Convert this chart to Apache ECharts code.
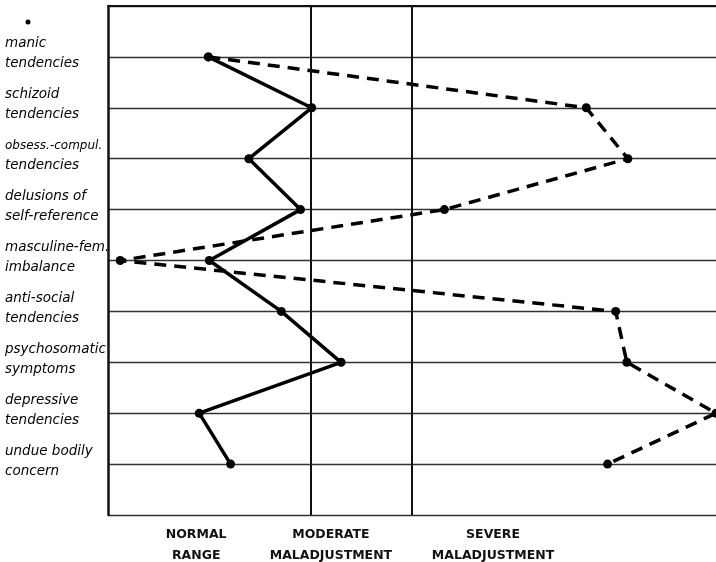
<!DOCTYPE html>
<html>
<head>
<meta charset="utf-8">
<script src="https://cdn.jsdelivr.net/npm/echarts@6/dist/echarts.min.js"></script>
<style>
  html, body { margin: 0; padding: 0; background: #fff; }
  #chart { width: 716px; height: 562px; }
</style>
</head>
<body>
<div id="chart"></div>
<script>
// rows from top to bottom, two lines each
var rowLabels = [
  ['manic', 'tendencies'],
  ['schizoid', 'tendencies'],
  ['obsess.-compul.', 'tendencies'],
  ['delusions of', 'self-reference'],
  ['masculine-fem.', 'imbalance'],
  ['anti-social', 'tendencies'],
  ['psychosomatic', 'symptoms'],
  ['depressive', 'tendencies'],
  ['undue bodily', 'concern']
]
// scores on a 0..6 scale (2 and 3 are the range limits)
var solidScores = [0.99, 2.01, 1.39, 1.90, 1.00, 1.71, 2.30, 0.90, 1.21]
var dashedScores = [0.99, 4.72, 5.13, 3.32, 0.12, 5.01, 5.12, 6.0, 4.93]
var rangeLimits = [2, 3]
var bandLabels = ['NORMAL\nRANGE', 'MODERATE\nMALADJUSTMENT', 'SEVERE\nMALADJUSTMENT']
var bandLabelAt = [0.87, 2.2, 3.8]

function toPoints (scores) {
  return scores.map(function (v, i) { return [v, i + 1] })
}

var chart = echarts.init(document.getElementById('chart'))

chart.setOption({
  animation: false,
  backgroundColor: '#fff',
  grid: { left: 108, right: 0, top: 6, bottom: 47 },
  xAxis: {
    type: 'value',
    min: 0,
    max: 6,
    axisLabel: { show: false },
    axisTick: { show: false },
    splitLine: { show: false },
    axisLine: { show: true, lineStyle: { color: '#111', width: 2 } }
  },
  yAxis: {
    type: 'value',
    inverse: true,
    min: 0,
    max: 10,
    interval: 1,
    axisTick: { show: false },
    axisLine: { show: true, lineStyle: { color: '#111', width: 2.5 } },
    splitLine: { show: true, lineStyle: { color: '#333', width: 1.4 } },
    axisLabel: {
      align: 'left',
      margin: 103,
      padding: [0, 0, 6, 0],
      formatter: function (v) {
        var r = rowLabels[v - 1]
        if (!r) return ''
        var first = r[0].indexOf('obsess') === 0 ? '{s|' + r[0] + '}' : '{n|' + r[0] + '}'
        return first + '\n{n|' + r[1] + '}'
      },
      rich: {
        n: { fontFamily: 'DejaVu Sans', fontStyle: 'italic', fontSize: 13.5, color: '#000', lineHeight: 20 },
        s: { fontFamily: 'DejaVu Sans', fontStyle: 'italic', fontSize: 12, color: '#000', lineHeight: 20 }
      }
    }
  },
  series: [
    {
      name: 'solid',
      type: 'line',
      data: toPoints(solidScores),
      symbol: 'circle',
      symbolSize: 9,
      itemStyle: { color: '#000' },
      lineStyle: { color: '#000', width: 3.5 },
      z: 5,
      markLine: {
        silent: true,
        symbol: ['none', 'none'],
        label: { show: false },
        lineStyle: { color: '#111', width: 2, type: 'solid' },
        data: rangeLimits.map(function (x) { return { xAxis: x } })
      }
    },
    {
      name: 'dashed',
      type: 'line',
      data: toPoints(dashedScores),
      symbol: 'circle',
      symbolSize: 9,
      itemStyle: { color: '#000' },
      lineStyle: { color: '#000', width: 3.5, type: [12, 8] },
      z: 4
    }
  ]
})

// band captions under the plot, placed through the x scale
var bottomY = chart.convertToPixel({ gridIndex: 0 }, [0, 10])[1]
var captions = bandLabels.map(function (t, i) {
  var px = chart.convertToPixel({ gridIndex: 0 }, [bandLabelAt[i], 10])[0]
  return {
    type: 'text',
    x: px,
    y: bottomY + 9,
    style: {
      text: t,
      align: 'center',
      verticalAlign: 'top',
      fontFamily: 'DejaVu Sans',
      fontWeight: 'bold',
      fontSize: 12.5,
      lineHeight: 21,
      fill: '#111'
    }
  }
})
captions.push({ type: 'circle', shape: { cx: 28, cy: 22, r: 2.5 }, style: { fill: '#000' } })
chart.setOption({ graphic: captions })
</script>
</body>
</html>
